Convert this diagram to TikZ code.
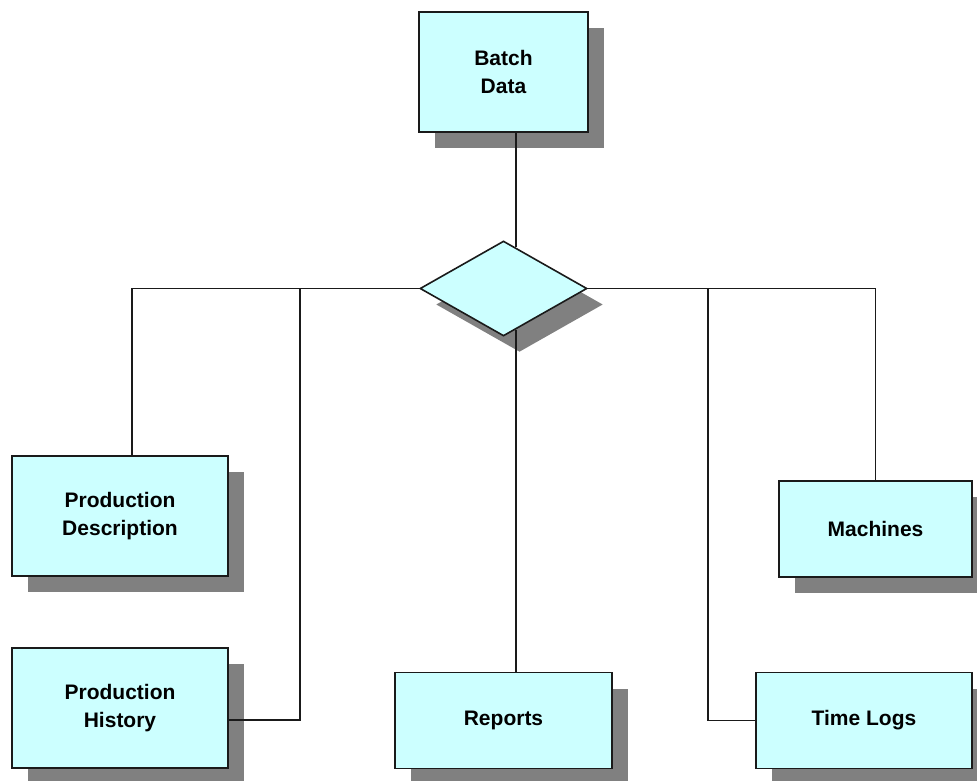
\documentclass[tikz,border=0pt]{standalone}
\usepackage{fontspec}
\setmainfont{Liberation Sans}
\usetikzlibrary{shapes.geometric,shadows,calc}
\definecolor{boxfill}{HTML}{CCFFFF}
\definecolor{shadegray}{HTML}{808080}
\definecolor{edge}{HTML}{1A1A1A}
\begin{document}
\begin{tikzpicture}[x=1pt,y=-1pt,
  entity/.style={draw=edge,line width=1.6pt,fill=boxfill,rectangle,inner sep=0pt,
    align=center,font=\fontsize{21}{28}\selectfont\bfseries,
    drop shadow={shadow xshift=16pt,shadow yshift=-16pt,fill=shadegray,opacity=1}},
  link/.style={draw=edge,line width=1.6pt}]
\useasboundingbox (0,0) rectangle (977,780);
% entities
\node[entity,minimum width=169pt,minimum height=120pt] (batch) at (503.5,72) {Batch\\Data};
\node[entity,shape=diamond,minimum width=167pt,minimum height=95pt] (hub) at (503.5,288.5) {};
\node[entity,minimum width=216pt,minimum height=120pt] (pdesc) at (120,516) {Production\\Description};
\node[entity,minimum width=216pt,minimum height=120pt] (phist) at (120,708) {Production\\History};
\node[entity,minimum width=217pt,minimum height=96pt] (reports) at (503.5,720.5) {Reports};
\node[entity,minimum width=193pt,minimum height=96pt] (machines) at (875.5,529) {Machines};
\node[entity,minimum width=216pt,minimum height=96pt] (timelogs) at (864,720.5) {Time Logs};
% junction points on the hub border and on the main rail
\coordinate (hubtop) at ($(hub.north)!0.145!(hub.east)$);
\coordinate (hubbot) at ($(hub.south)!0.145!(hub.east)$);
\coordinate (histjoin) at (300,288);
\coordinate (logjoin) at (708,288);
% connectors
\draw[link] (batch.south -| hubtop) -- (hubtop);
\draw[link] (hubbot) -- (reports.north -| hubbot);
\draw[link] (hub.west) -| ([xshift=12pt]pdesc.north);
\draw[link] (hub.east) -| (machines.north);
\draw[link] ([yshift=-12pt]phist.east) -| (histjoin);
\draw[link] (timelogs.west) -| (logjoin);
\end{tikzpicture}
\end{document}
